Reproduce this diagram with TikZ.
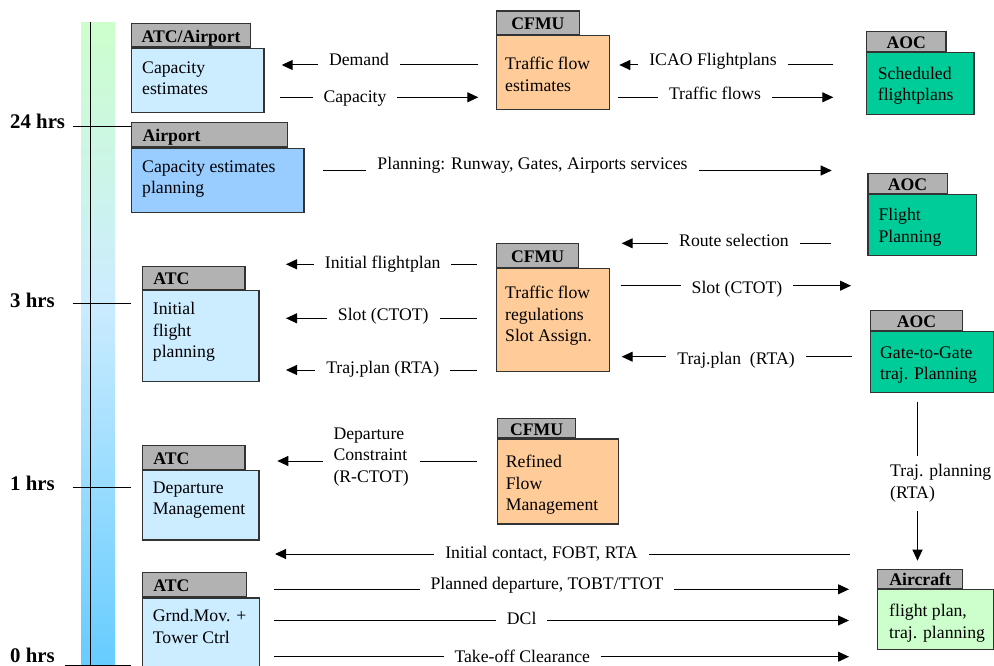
\documentclass[tikz,border=0pt]{standalone}
\usepackage{fontspec}
\setmainfont{Liberation Serif}
\usetikzlibrary{arrows.meta}
\definecolor{tabgray}{HTML}{B2B2B2}
\definecolor{atcblue}{HTML}{CCECFF}
\definecolor{aptblue}{HTML}{99CCFF}
\definecolor{cfmuorange}{HTML}{FFCC99}
\definecolor{aocgreen}{HTML}{00CC99}
\definecolor{acgreen}{HTML}{CCFFCC}
\definecolor{barblue}{HTML}{66CCFF}
\definecolor{edge}{HTML}{333333}
\begin{document}
\begin{tikzpicture}[x=1pt, y=-1pt,
    font=\fontsize{17.7}{21.4}\selectfont,
    body/.style={draw=edge, line width=1.2pt, anchor=north west, inner sep=0pt},
    tab/.style={draw=edge, line width=1.2pt, fill=tabgray, anchor=south west, inner sep=0pt,
      text height=14pt, text depth=0pt, font=\fontsize{17.7}{21.4}\selectfont\bfseries},
    tabl/.style={tab, align=left, inner xsep=11pt},
    txt/.style={anchor=north west, align=left, inner sep=0pt, yshift=-2.5pt},
    flow/.style={line width=1pt, -{Triangle[length=11pt,width=10pt]}},
    lbl/.style={fill=white, inner xsep=11pt, inner ysep=2pt},
    hrs/.style={anchor=west, inner sep=0pt, font=\fontsize{20.8}{24}\selectfont\bfseries}]
  \clip (0,0) rectangle (994,666);
  % time axis
  \shade[top color=acgreen, bottom color=atcblue] (81,22.3) rectangle (115,300);
  \shade[top color=atcblue, bottom color=barblue] (81,299.5) rectangle (115,666);
  \draw[line width=1pt] (90,22.3) -- (90,666);
  \foreach \y/\x in {127/73, 303.3/73, 487.7/73, 665/65}
    \draw[line width=1pt] (\x,\y) -- (131,\y);
  \node[hrs] (h24) at (10,121.7) {24 hrs};
  \node[hrs] (h3) at (10,300) {3 hrs};
  \node[hrs] (h1) at (10,483.3) {1 hrs};
  \node[hrs] (h0) at (10,655.5) {0 hrs};

  % boxes
  \node[body, fill=atcblue, minimum width=132.3pt, minimum height=64.6pt] (capest) at (131,47.7) {};
  \node[tab, minimum width=119pt, minimum height=23.4pt] (capestH) at (capest.north west) {ATC/Airport};
  \node[txt] (capestT) at (142,55.7) {\strut Capacity\\estimates};

  \node[body, fill=aptblue, minimum width=172.3pt, minimum height=64.6pt] (capplan) at (131,147.7) {};
  \node[tabl, text width=133.7pt, minimum height=24.4pt] (capplanH) at (capplan.north west) {Airport};
  \node[txt] (capplanT) at (142,154.7) {\strut Capacity estimates\\planning};

  \node[body, fill=cfmuorange, minimum width=113.3pt, minimum height=74pt] (flowest) at (495.7,35) {};
  \node[tab, minimum width=83.3pt, minimum height=23.3pt] (flowestH) at (flowest.north west) {CFMU};
  \node[txt] (flowestT) at (505,52.3) {\strut Traffic flow\\estimates};

  \node[body, fill=aocgreen, minimum width=107.3pt, minimum height=61.7pt] (schedfp) at (866,52.3) {};
  \node[tab, minimum width=79.3pt, minimum height=20pt] (schedfpH) at (schedfp.north west) {AOC};
  \node[txt] (schedfpT) at (877.7,61.7) {\strut Scheduled\\flightplans};

  \node[body, fill=aocgreen, minimum width=108.4pt, minimum height=60.7pt] (fltplan) at (867.3,194.3) {};
  \node[tab, minimum width=79.4pt, minimum height=20pt] (fltplanH) at (fltplan.north west) {AOC};
  \node[txt] (fltplanT) at (878.3,203.3) {\strut Flight\\Planning};

  \node[body, fill=atcblue, minimum width=116.6pt, minimum height=91pt] (initfp) at (141.7,290) {};
  \node[tabl, text width=80.6pt, minimum height=23.3pt] (initfpH) at (initfp.north west) {ATC};
  \node[txt] (initfpT) at (152.7,297.3) {\strut Initial\\flight\\planning};

  \node[body, fill=cfmuorange, minimum width=113pt, minimum height=103pt] (flowreg) at (496,268) {};
  \node[tab, minimum width=82pt, minimum height=24pt] (flowregH) at (flowreg.north west) {CFMU};
  \node[txt] (flowregT) at (505,281) {\strut Traffic flow\\regulations\\Slot Assign.};

  \node[body, fill=aocgreen, minimum width=123.3pt, minimum height=61pt] (g2g) at (869.7,331) {};
  \node[tab, minimum width=92.3pt, minimum height=20.3pt] (g2gH) at (g2g.north west) {AOC};
  \node[txt] (g2gT) at (880,340.7) {\strut Gate-to-Gate\\traj. Planning};

  \node[body, fill=atcblue, minimum width=116.6pt, minimum height=69.3pt] (depman) at (141.7,470) {};
  \node[tabl, text width=80.6pt, minimum height=24.3pt] (depmanH) at (depman.north west) {ATC};
  \node[txt] (depmanT) at (152.7,475.7) {\strut Departure\\Management};

  \node[body, fill=cfmuorange, minimum width=121pt, minimum height=85pt] (refflow) at (497,438.3) {};
  \node[tab, minimum width=78pt, minimum height=19.3pt] (refflowH) at (refflow.north west) {CFMU};
  \node[txt] (refflowT) at (505.7,450) {\strut Refined\\Flow\\Management};

  \node[body, fill=acgreen, minimum width=116pt, minimum height=60pt] (aircraft) at (877,589) {};
  \node[tab, minimum width=85pt, minimum height=19pt] (aircraftH) at (aircraft.north west) {Aircraft};
  \node[txt] (aircraftT) at (889,599) {\strut flight plan,\\traj. planning};

  \node[body, fill=atcblue, minimum width=117.3pt, minimum height=90pt] (grnd) at (141.7,597.3) {};
  \node[tabl, text width=82pt, minimum height=24pt] (grndH) at (grnd.north west) {ATC};
  \node[txt] (grndT) at (152.7,604) {\strut Grnd.Mov. +\\Tower Ctrl};

  % flows
  \coordinate (dmdA) at (478.3,65);  \coordinate (dmdB) at (281.7,65);
  \draw[flow] (dmdA) -- (dmdB);
  \node[lbl] (dmdL) at (359,59) {Demand};

  \coordinate (capA) at (280,97.3);  \coordinate (capB) at (478.3,97.3);
  \draw[flow] (capA) -- (capB);
  \node[lbl] (capL) at (355,99) {Capacity};

  \coordinate (icaoA) at (833.3,65);  \coordinate (icaoB) at (619.3,65);
  \draw[flow] (icaoA) -- (icaoB);
  \node[lbl] (icaoL) at (713,61.7) {ICAO Flightplans};

  \coordinate (tfA) at (618.3,97.3);  \coordinate (tfB) at (833.3,97.3);
  \draw[flow] (tfA) -- (tfB);
  \node[lbl] (tfL) at (715,93.3) {Traffic flows};

  \coordinate (planA) at (323.3,170.5);  \coordinate (planB) at (831.7,170.5);
  \draw[flow] (planA) -- (planB);
  \node[lbl] (planL) at (532.5,165) {Planning: Runway, Gates, Airports services};

  \coordinate (routeA) at (830.7,243.3);  \coordinate (routeB) at (621.7,243.3);
  \draw[flow] (routeA) -- (routeB);
  \node[lbl] (routeL) at (734,240) {Route selection};

  \coordinate (ifpA) at (476.7,264.3);  \coordinate (ifpB) at (286,264.3);
  \draw[flow] (ifpA) -- (ifpB);
  \node[lbl] (ifpL) at (382.7,264.3) {Initial flightplan};

  \coordinate (slotA) at (476.7,318.3);  \coordinate (slotB) at (286,318.3);
  \draw[flow] (slotA) -- (slotB);
  \node[lbl] (slotL) at (383.3,316.7) {Slot (CTOT)};

  \coordinate (trajA) at (476.7,370);  \coordinate (trajB) at (286,370);
  \draw[flow] (trajA) -- (trajB);
  \node[lbl] (trajL) at (382.7,369) {Traj.plan (RTA)};

  \coordinate (slot2A) at (620.7,285.7);  \coordinate (slot2B) at (851,285.7);
  \draw[flow] (slot2A) -- (slot2B);
  \node[lbl] (slot2L) at (737,289) {Slot (CTOT)};

  \coordinate (traj2A) at (851.7,356.7);  \coordinate (traj2B) at (621.7,356.7);
  \draw[flow] (traj2A) -- (traj2B);
  \node[lbl] (traj2L) at (736,360) {Traj.plan~~(RTA)};

  \coordinate (depcA) at (476.7,461);  \coordinate (depcB) at (277.3,461);
  \draw[flow] (depcA) -- (depcB);
  \node[lbl, anchor=west, align=left] (depcL) at (322.3,457) {Departure\\Constraint\\(R-CTOT)};

  \coordinate (tplA) at (917.5,401.7);  \coordinate (tplB) at (917.5,560.7);
  \draw[flow] (tplA) -- (tplB);
  \node[lbl, anchor=west, align=left, inner ysep=9pt] (tplL) at (879,483.3) {Traj. planning\\(RTA)};

  \coordinate (icA) at (850,554);  \coordinate (icB) at (275,554);
  \draw[flow] (icA) -- (icB);
  \node[lbl] (icL) at (541.5,553.3) {Initial contact, FOBT, RTA};

  \coordinate (pdA) at (274,589.3);  \coordinate (pdB) at (849,589.3);
  \draw[flow] (pdA) -- (pdB);
  \node[lbl] (pdL) at (547,585) {Planned departure, TOBT/TTOT};

  \coordinate (dclA) at (274,620.5);  \coordinate (dclB) at (849,620.5);
  \draw[flow] (dclA) -- (dclB);
  \node[lbl] (dclL) at (521.7,618) {DCl};

  \coordinate (tocA) at (274,656.7);  \coordinate (tocB) at (849,656.7);
  \draw[flow] (tocA) -- (tocB);
  \node[lbl] (tocL) at (522.3,656) {Take-off Clearance};
\end{tikzpicture}
\end{document}
